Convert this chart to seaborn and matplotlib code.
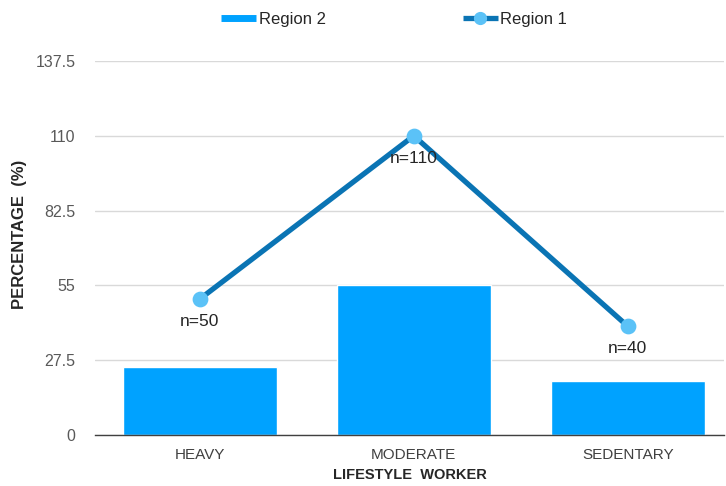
import matplotlib
matplotlib.use("Agg")
import matplotlib.pyplot as plt
from matplotlib.lines import Line2D
import seaborn as sns

categories = ["HEAVY", "MODERATE", "SEDENTARY"]
region2 = [25, 55, 20]
region1 = [50, 110, 40]
n_labels = ["n=50", "n=110", "n=40"]
y_ticks = [0, 27.5, 55, 82.5, 110, 137.5]
y_tick_labels = ["0", "27.5", "55", "82.5", "110", "137.5"]

bar_color = "#00A2FF"
line_color = "#0A74B4"
marker_color = "#5BC2F7"
text_gray = "#595959"

sns.set_theme(style="white")
plt.rcParams["font.family"] = ["Liberation Sans", "DejaVu Sans"]

fig = plt.figure(figsize=(7.26, 4.86), dpi=100)
ax = fig.add_axes([95 / 726, 51 / 486, 629 / 726, 374 / 486])

ax.set_axisbelow(True)
ax.yaxis.grid(True, color="#D9D9D9", linewidth=1.0)

sns.barplot(x=categories, y=region2, color=bar_color, width=0.72,
            saturation=1, ax=ax, zorder=2)
sns.pointplot(x=categories, y=region1, color=line_color, markers="o",
              linewidth=3.8, markersize=8.5, ax=ax, zorder=3)
for ln in ax.lines:
    if ln.get_marker() == "o":
        ln.set_markerfacecolor(marker_color)
        ln.set_markeredgecolor(marker_color)

for i, (v, lab) in enumerate(zip(region1, n_labels)):
    ax.annotate(lab, (i, v), xytext=(0, -11), textcoords="offset points",
                ha="center", va="top", fontsize=12.5, color="#262626", zorder=4)

ax.set_xlim(-0.49, 2.45)
ax.set_ylim(0, 137.5)
ax.set_yticks(y_ticks)
ax.set_yticklabels(y_tick_labels)
ax.tick_params(axis="y", length=0, pad=14, labelsize=11.5, labelcolor=text_gray)
ax.tick_params(axis="x", length=0, pad=9, labelsize=11, labelcolor="#404040")

for s in ["top", "right", "left"]:
    ax.spines[s].set_visible(False)
ax.spines["bottom"].set_color("#404040")
ax.spines["bottom"].set_linewidth(1.0)

ax.set_xlabel("LIFESTYLE  WORKER", fontsize=10.5, fontweight="bold",
              color="#262626", labelpad=5)
ax.set_ylabel("PERCENTAGE  (%)", fontsize=12, fontweight="bold",
              color="#262626", labelpad=6)
ax.yaxis.label.set_y(0.537)

handles = [
    Line2D([0], [0], color=bar_color, linewidth=5, solid_capstyle="butt"),
    Line2D([0], [0], color=line_color, linewidth=3.8, marker="o",
           markersize=8.5, markerfacecolor=marker_color,
           markeredgecolor=marker_color, solid_capstyle="butt"),
]
fig.legend(handles, ["Region 2", "Region 1"], loc="center",
           bbox_to_anchor=(0.543, 0.96), ncol=2, frameon=False,
           fontsize=12, columnspacing=8.2, handlelength=2.1,
           handletextpad=0.15, labelcolor="#262626")

fig.savefig("out.png", dpi=100)
